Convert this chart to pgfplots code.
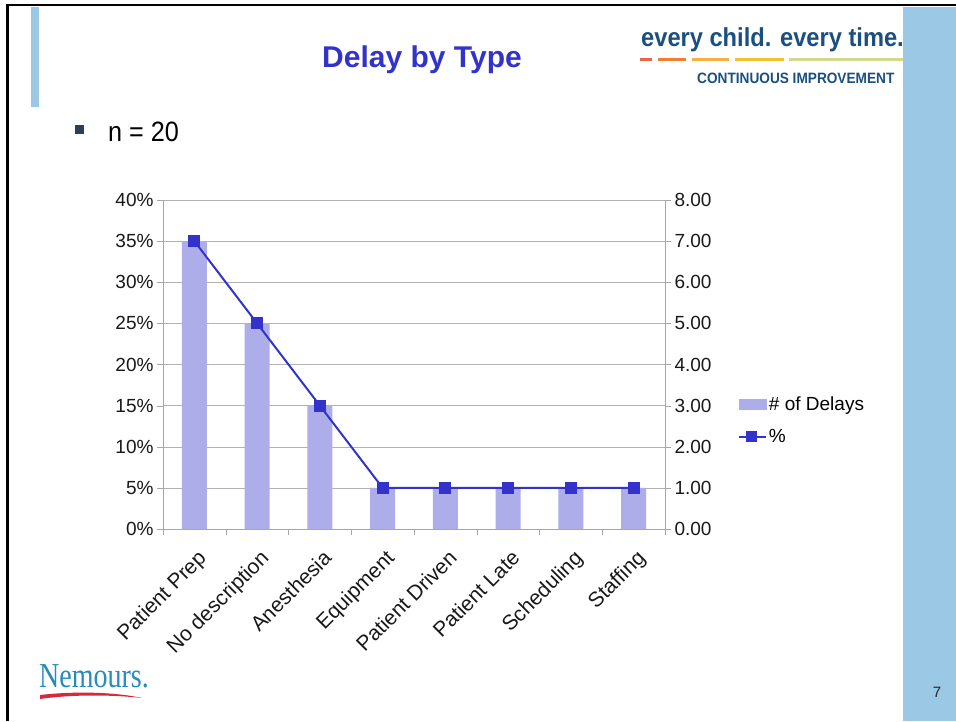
\documentclass[border=0pt]{standalone}
\usepackage{pgfplots}
\pgfplotsset{compat=1.18}
\usepackage{fontspec}
\setmainfont{Liberation Sans}
\newfontfamily\seriffont{Liberation Serif}
\usepackage{graphicx}
\definecolor{barfill}{RGB}{173,173,234}
\definecolor{linecol}{RGB}{51,51,204}
\definecolor{titlecol}{RGB}{51,51,204}
\definecolor{stripblue}{RGB}{155,200,228}
\definecolor{logoblue}{RGB}{26,79,128}
\definecolor{bulletcol}{RGB}{43,63,90}
\definecolor{nemblue}{RGB}{40,140,185}
\definecolor{nemred}{RGB}{215,40,60}
\definecolor{d1}{RGB}{232,101,75}
\definecolor{d2}{RGB}{240,128,48}
\definecolor{d3}{RGB}{245,176,64}
\definecolor{d4}{RGB}{248,192,48}
\definecolor{d5}{RGB}{212,216,138}
\begin{document}
\begin{tikzpicture}
\path[use as bounding box] (0pt,0pt) rectangle (956pt,721pt);
\begin{scope}[x=1pt,y=1pt]
\fill[white] (0,0) rectangle (956,721);
\fill[stripblue] (903,0) rectangle (956,714);
\fill[stripblue] (31,614) rectangle (39,714);
\draw[line width=2.5pt] (7.5,0) -- (7.5,716) -- (956,716);
% title
\node[font=\fontsize{30}{30}\selectfont\bfseries, text=titlecol] at (422,661) {Delay by Type};
% bullet
\fill[bulletcol] (75,587) rectangle (84,596);
\node[anchor=base west, inner sep=0pt, font=\fontsize{28}{28}\selectfont] at (108,579) {\scalebox{0.9}[1]{n = 20}};
% logo
\node[anchor=base west, inner sep=0pt, text=logoblue, font=\fontsize{26}{26}\selectfont\bfseries] at (641,674) {\scalebox{0.91}[1]{every child. every time.}};
\draw[line width=3pt, d1] (640,661) -- (652,661);
\draw[line width=3pt, d2] (658,661) -- (686,661);
\draw[line width=3pt, d3] (692,661) -- (729,661);
\draw[line width=3pt, d4] (735,661) -- (784,661);
\draw[line width=3pt, d5] (789,661) -- (903,661);
\node[anchor=base west, inner sep=0pt, text=logoblue, font=\fontsize{15}{15}\selectfont\bfseries] at (697,637) {\scalebox{0.91}[1]{CONTINUOUS IMPROVEMENT}};
% Nemours
\node[anchor=base west, inner sep=0pt, text=nemblue, font=\fontsize{35}{35}\selectfont\seriffont] at (39,34) {\scalebox{0.8}[1]{Nemours.}};
\fill[nemred] (40,26) .. controls (75,30) and (115,29) .. (142,23) .. controls (115,26) and (75,27) .. (40,22) -- cycle;
% page number
\node[font=\fontsize{15}{15}\selectfont, text=black!85] at (937,29) {7};
\end{scope}
% chart
\begin{axis}[
  at={(163pt,192pt)}, anchor=south west,
  scale only axis, width=502pt, height=329pt,
  xmin=-0.5, xmax=7.5, ymin=0, ymax=0.4,
  axis x line*=bottom, axis y line*=left,
  axis line style={draw=gray!70},
  ytick={0,0.05,0.1,0.15,0.2,0.25,0.3,0.35,0.4},
  yticklabels={0\%,5\%,10\%,15\%,20\%,25\%,30\%,35\%,40\%},
  ymajorgrids, grid style={gray!60},
  xtick={0,...,7},
  xticklabels={Patient Prep,No description,Anesthesia,Equipment,Patient Driven,Patient Late,Scheduling,Staffing},
  minor xtick={-0.5,0.5,...,7.5},
  major x tick style={draw=none},
  tick align=outside, major tick length=6pt, minor tick length=6pt,
  tick style={gray!70},
  ticklabel style={font=\fontsize{19}{19}\selectfont, text=black!90},
  xticklabel style={rotate=45, anchor=north east, inner sep=2pt, yshift=-9pt, xshift=-6pt, font=\fontsize{21}{21}\selectfont},
  clip=false,
]
\addplot[ybar, bar width=25pt, fill=barfill, draw=none] coordinates {(0,0.35) (1,0.25) (2,0.15) (3,0.05) (4,0.05) (5,0.05) (6,0.05) (7,0.05)};
\end{axis}
\begin{axis}[
  at={(163pt,192pt)}, anchor=south west,
  scale only axis, width=502pt, height=329pt,
  xmin=-0.5, xmax=7.5, ymin=0, ymax=8,
  axis y line*=right, axis x line=none,
  axis line style={draw=gray!70},
  ytick={0,...,8},
  yticklabel style={/pgf/number format/.cd, fixed, fixed zerofill, precision=2, assume math mode=true},
  tick align=outside, major tick length=6pt,
  tick style={gray!70},
  ticklabel style={font=\fontsize{19}{19}\selectfont, text=black!90},
  clip=false,
  legend style={at={(1.145,0.33)}, anchor=west, draw=none, fill=none, font=\fontsize{19}{19}\selectfont, row sep=13pt, inner sep=0pt},
  legend cell align=left,
]
\addlegendimage{legend image code/.code={\fill[barfill] (0pt,-5pt) rectangle (27pt,5pt);}}
\addlegendentry{\# of Delays}
\addplot[linecol, line width=2pt, mark=square*, mark size=5pt, mark options={fill=linecol}, legend image code/.code={\draw[linecol, line width=2pt] (0pt,0pt) -- (27pt,0pt); \fill[linecol] (8.5pt,-4.5pt) rectangle (17.5pt,4.5pt);}] coordinates {(0,7) (1,5) (2,3) (3,1) (4,1) (5,1) (6,1) (7,1)};
\addlegendentry{\%}
\end{axis}
\end{tikzpicture}
\end{document}
